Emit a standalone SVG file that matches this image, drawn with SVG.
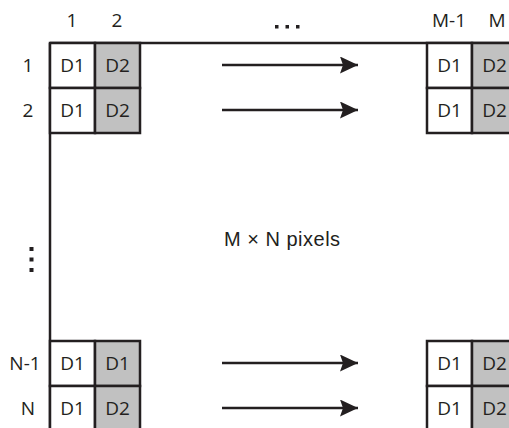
<svg xmlns="http://www.w3.org/2000/svg" width="509" height="428" viewBox="0 0 509 428">
<style>
.lbl{font-family:"Open Sans","Noto Sans","DejaVu Sans",sans-serif;font-size:19px;fill:#231f20;text-anchor:middle}
.w{fill:#ffffff;stroke:#231f20;stroke-width:2.5}
.g{fill:#c1c1c1;stroke:#231f20;stroke-width:2.5}
.ln{stroke:#231f20;stroke-width:2.5;fill:none}
.dot{fill:#231f20}
</style>
<defs>
<marker id="ah" viewBox="0 0 18 17" refX="18" refY="8.5" markerWidth="18" markerHeight="17" markerUnits="userSpaceOnUse" orient="auto">
<path d="M0,0 L18,8.5 L0,17 L3,8.5 Z" fill="#231f20"/>
</marker>
</defs>
<rect width="509" height="428" fill="#ffffff"/>
<g id="frame">
<line class="ln" x1="50" y1="43" x2="509" y2="43"/>
<line class="ln" x1="50" y1="43" x2="50" y2="428"/>
</g>
<g id="col-labels">
<text class="lbl" x="72" y="27">1</text>
<text class="lbl" x="117" y="27">2</text>
<text class="lbl" x="449" y="27">M-1</text>
<text class="lbl" x="497" y="27">M</text>
<rect class="dot" x="275" y="25" width="3.5" height="3.5"/>
<rect class="dot" x="285.5" y="25" width="3.5" height="3.5"/>
<rect class="dot" x="296" y="25" width="3.5" height="3.5"/>
</g>
<g id="row-labels">
<text class="lbl" x="28" y="72">1</text>
<text class="lbl" x="28" y="117">2</text>
<text class="lbl" x="25" y="370">N-1</text>
<text class="lbl" x="28" y="415">N</text>
<rect class="dot" x="29.5" y="247" width="4" height="4"/>
<rect class="dot" x="29.5" y="257.5" width="4" height="4"/>
<rect class="dot" x="29.5" y="268" width="4" height="4"/>
</g>
<g id="tl-cells">
<rect class="w" x="50" y="43" width="45" height="45"/>
<rect class="g" x="95" y="43" width="45" height="45"/>
<rect class="w" x="50" y="88" width="45" height="45"/>
<rect class="g" x="95" y="88" width="45" height="45"/>
<text class="lbl" x="72.5" y="72">D1</text>
<text class="lbl" x="117.5" y="72">D2</text>
<text class="lbl" x="72.5" y="117">D1</text>
<text class="lbl" x="117.5" y="117">D2</text>
</g>
<g id="tr-cells">
<rect class="w" x="427" y="43" width="45" height="45"/>
<rect class="g" x="472" y="43" width="45" height="45"/>
<rect class="w" x="427" y="88" width="45" height="45"/>
<rect class="g" x="472" y="88" width="45" height="45"/>
<text class="lbl" x="449.5" y="72">D1</text>
<text class="lbl" x="494.5" y="72">D2</text>
<text class="lbl" x="449.5" y="117">D1</text>
<text class="lbl" x="494.5" y="117">D2</text>
</g>
<g id="bl-cells">
<rect class="w" x="50" y="341" width="45" height="45"/>
<rect class="g" x="95" y="341" width="45" height="45"/>
<rect class="w" x="50" y="386" width="45" height="45"/>
<rect class="g" x="95" y="386" width="45" height="45"/>
<text class="lbl" x="72.5" y="370">D1</text>
<text class="lbl" x="117.5" y="370">D1</text>
<text class="lbl" x="72.5" y="415">D1</text>
<text class="lbl" x="117.5" y="415">D2</text>
</g>
<g id="br-cells">
<rect class="w" x="427" y="341" width="45" height="45"/>
<rect class="g" x="472" y="341" width="45" height="45"/>
<rect class="w" x="427" y="386" width="45" height="45"/>
<rect class="g" x="472" y="386" width="45" height="45"/>
<text class="lbl" x="449.5" y="370">D1</text>
<text class="lbl" x="494.5" y="370">D2</text>
<text class="lbl" x="449.5" y="415">D1</text>
<text class="lbl" x="494.5" y="415">D2</text>
</g>
<g id="caption">
<text x="224" y="246" style="font-family:'Liberation Sans',Arial,sans-serif;font-size:20px;fill:#231f20;letter-spacing:0.5px">M × N pixels</text>
</g>
<g id="connectors">
<line class="ln" x1="222" y1="65" x2="358" y2="65" marker-end="url(#ah)"/>
<line class="ln" x1="222" y1="110" x2="358" y2="110" marker-end="url(#ah)"/>
<line class="ln" x1="222" y1="363" x2="358" y2="363" marker-end="url(#ah)"/>
<line class="ln" x1="222" y1="408" x2="358" y2="408" marker-end="url(#ah)"/>
</g>
</svg>
